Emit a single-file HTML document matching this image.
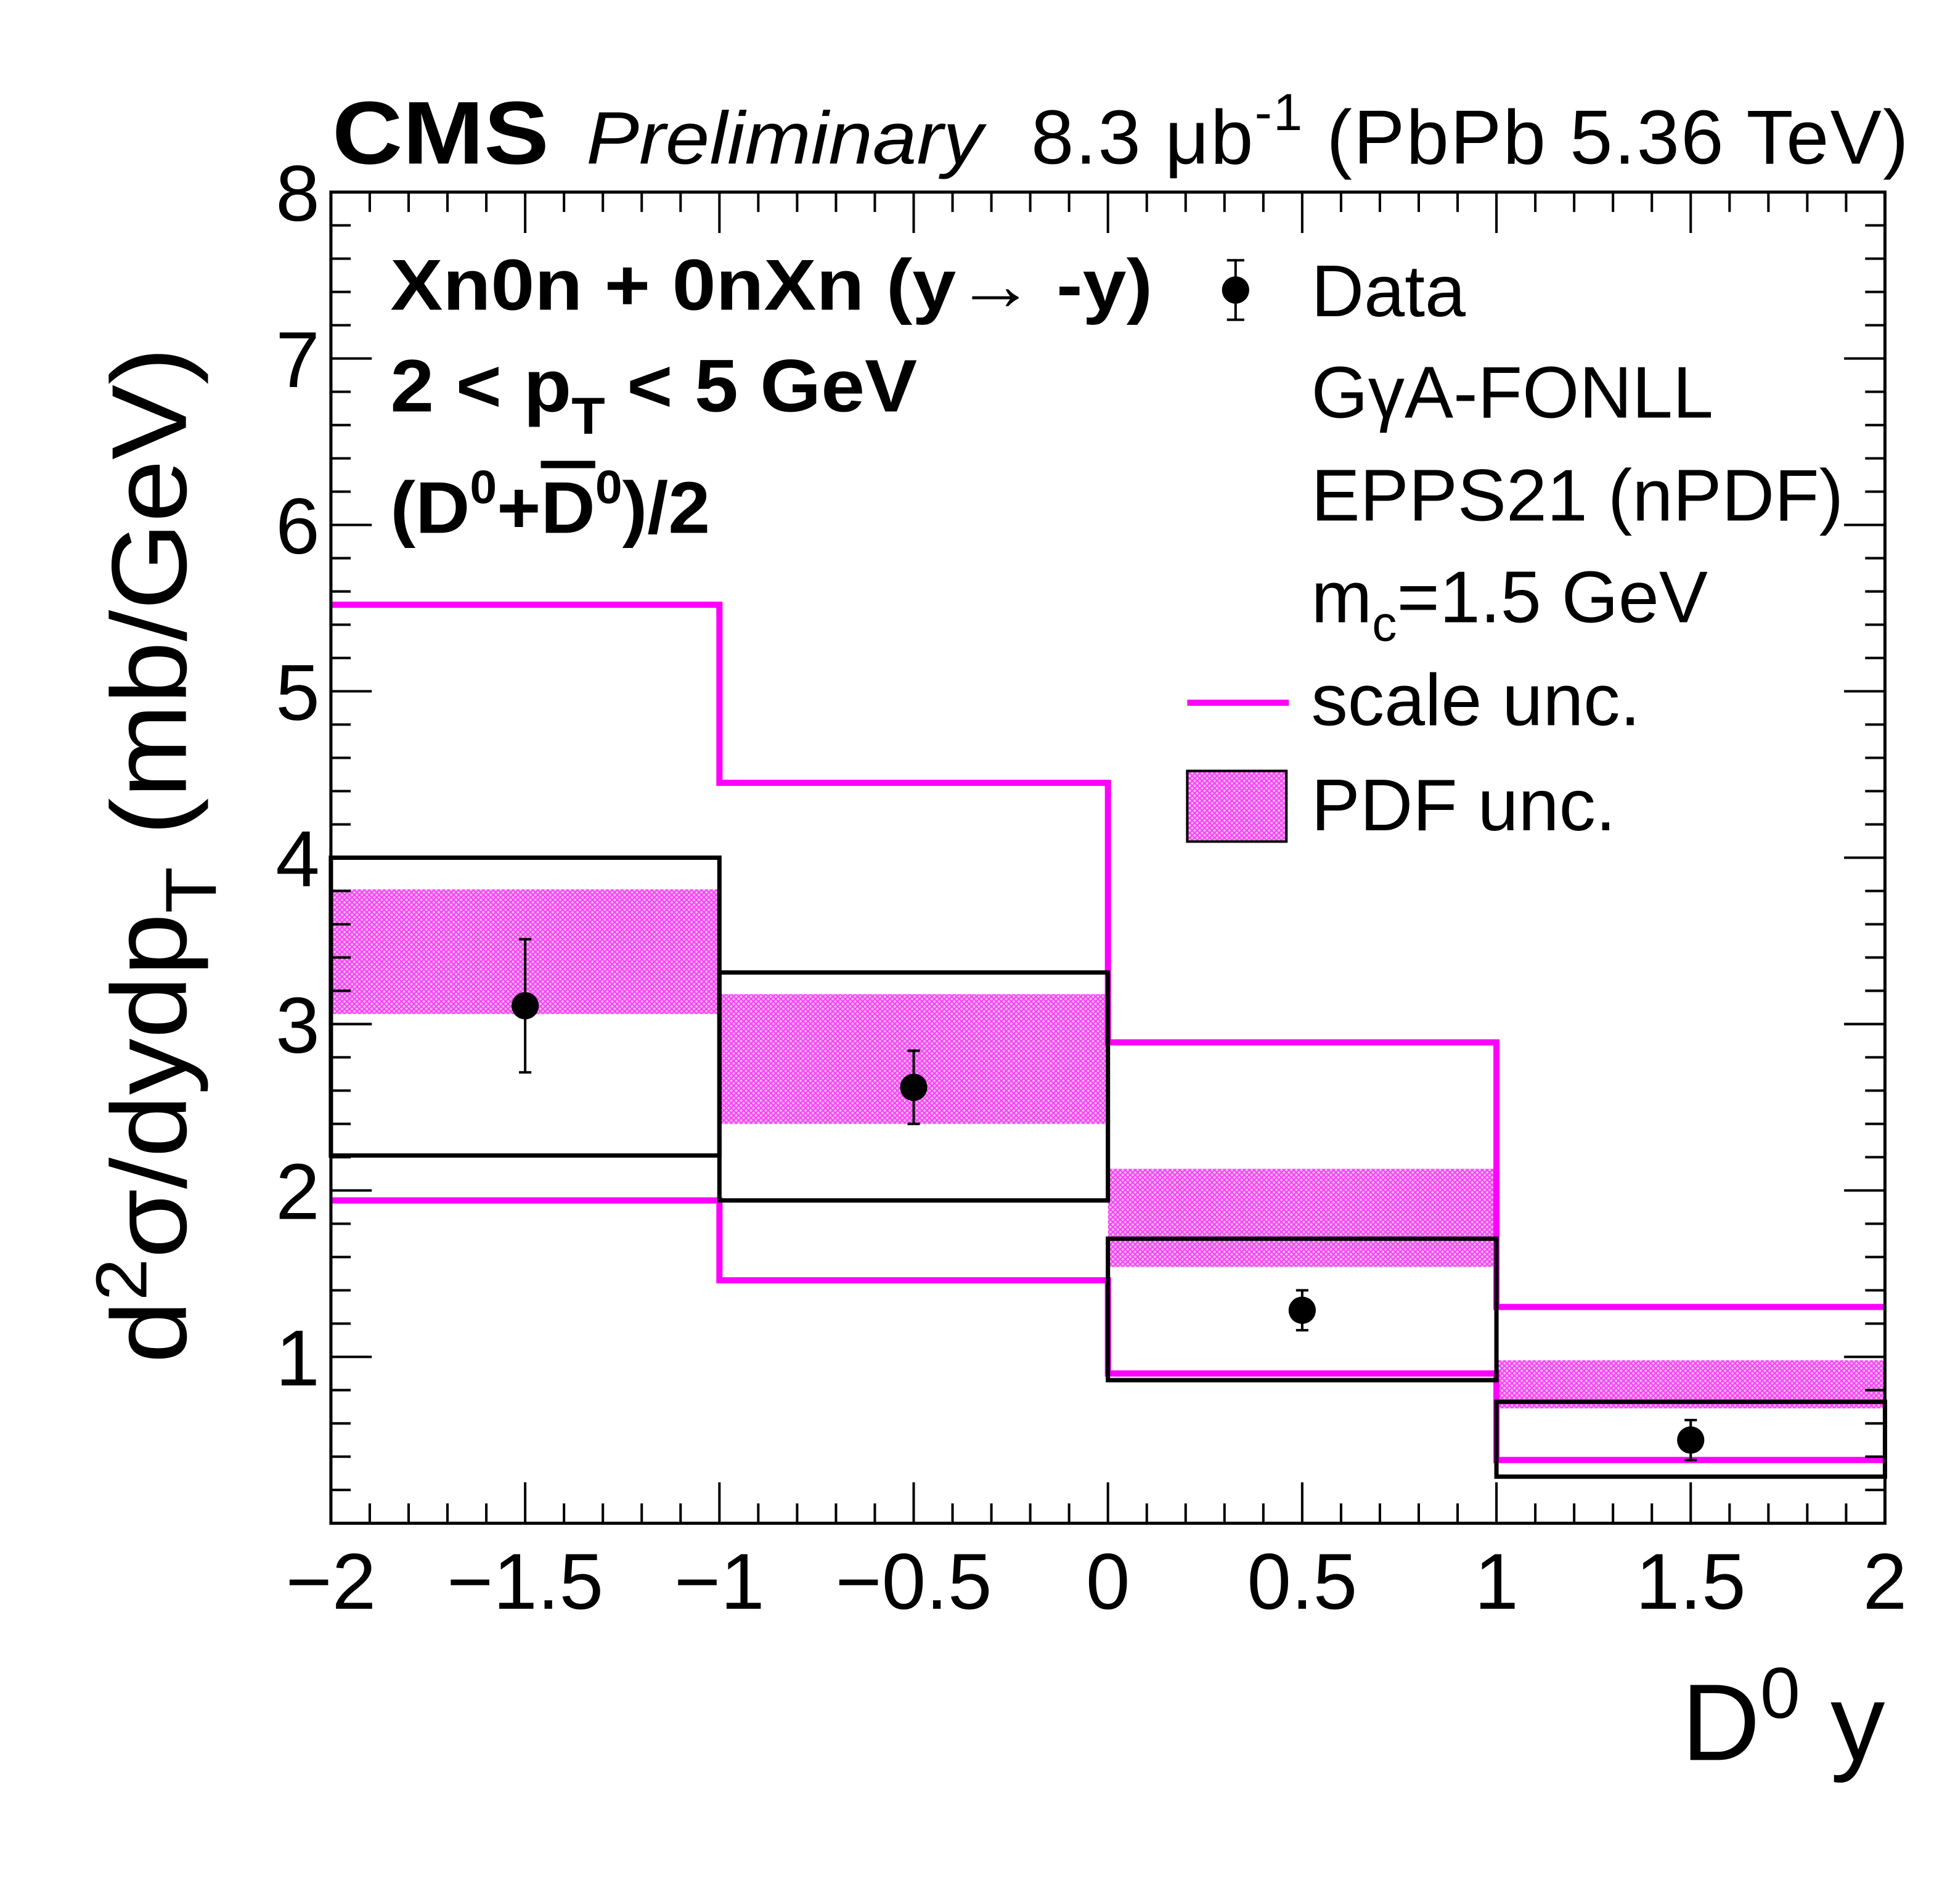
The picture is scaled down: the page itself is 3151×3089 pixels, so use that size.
<!DOCTYPE html>
<html><head><meta charset="utf-8">
<style>
html,body{margin:0;padding:0;background:#fff;}
svg{display:block;}
text{font-family:"Liberation Sans",sans-serif;fill:#000;}
</style></head>
<body>
<svg id="chart" width="3151" height="3089" viewBox="0 0 1567 1536.2" xmlns="http://www.w3.org/2000/svg">
<defs>
<pattern id="hatch" width="4" height="4" patternUnits="userSpaceOnUse">
<rect width="4" height="4" fill="#fbb6fb"/>
<path d="M0,0L4,4M4,0L0,4" stroke="#f340f3" stroke-width="1"/>
</pattern>
</defs>
<g id="plot"></g>
<text x="268" y="132" font-size="72" font-weight="bold" textLength="175" lengthAdjust="spacingAndGlyphs">CMS</text>
<text x="473" y="132" font-size="60" font-style="italic" textLength="320" lengthAdjust="spacingAndGlyphs">Preliminary</text>
<text x="832" y="132" font-size="62" textLength="708" lengthAdjust="spacing">8.3 μb<tspan dy="-27" font-size="42">-1</tspan><tspan dy="27"> (PbPb 5.36 TeV)</tspan></text>
<text x="315" y="250" font-size="58" font-weight="bold" textLength="615" lengthAdjust="spacingAndGlyphs">Xn0n + 0nXn (y→ -y)</text>
<text x="315" y="332" font-size="60" font-weight="bold" textLength="425" lengthAdjust="spacingAndGlyphs">2 &lt; p<tspan dy="18" font-size="42">T</tspan><tspan dy="-18"> &lt; 5 GeV</tspan></text>
<text x="315" y="430" font-size="59" font-weight="bold" textLength="258" lengthAdjust="spacingAndGlyphs">(D<tspan dy="-24" font-size="38">0</tspan><tspan dy="24">+</tspan><tspan text-decoration="overline">D</tspan><tspan dy="-24" font-size="38">0</tspan><tspan dy="24">)/2</tspan></text>
<g>
<line x1="997" y1="210" x2="997" y2="258" stroke="#000" stroke-width="2"/>
<line x1="990" y1="210" x2="1004" y2="210" stroke="#000" stroke-width="2"/>
<line x1="990" y1="258" x2="1004" y2="258" stroke="#000" stroke-width="2"/>
<circle cx="997" cy="234" r="11" fill="#000"/>
<text x="1058" y="255" font-size="59">Data</text>
<text x="1058" y="337" font-size="59">GγA-FONLL</text>
<text x="1058" y="420" font-size="59">EPPS21 (nPDF)</text>
<text x="1058" y="502" font-size="59">m<tspan dy="15" font-size="40">c</tspan><tspan dy="-15">=1.5 GeV</tspan></text>
<line x1="958" y1="567" x2="1040" y2="567" stroke="#ff00ff" stroke-width="5"/>
<text x="1058" y="585" font-size="59">scale unc.</text>
<rect x="958" y="622" width="80" height="57" fill="url(#hatch)" stroke="#000" stroke-width="2"/>
<text x="1058" y="670" font-size="59">PDF unc.</text>
</g>
<text transform="translate(150,1100) rotate(-90)" font-size="86" textLength="820" lengthAdjust="spacingAndGlyphs">d<tspan dy="-32" font-size="58">2</tspan><tspan dy="32">σ/dydp</tspan><tspan dy="24" font-size="58">T</tspan><tspan dy="-24">  (mb/GeV)</tspan></text>
<text x="1521" y="1420" font-size="88" text-anchor="end">D<tspan dy="-34" font-size="58">0</tspan><tspan dy="34"> y</tspan></text>
</svg>
<script>
const binEdges = [-2, -1, 0, 1, 2];
const dataX = [-1.5, -0.5, 0.5, 1.5];
const dataY = [3.11, 2.62, 1.28, 0.50];
const dataErr = [0.40, 0.22, 0.12, 0.12];
const systHi = [4.0, 3.31, 1.71, 0.73];
const systLo = [2.21, 1.94, 0.86, 0.28];
const pdfHi = [3.81, 3.18, 2.13, 0.98];
const pdfLo = [3.06, 2.40, 1.54, 0.69];
const scaleHi = [5.52, 4.45, 2.89, 1.30];
const scaleLo = [1.94, 1.46, 0.90, 0.38];
const xTicks = [-2, -1.5, -1, -0.5, 0, 0.5, 1, 1.5, 2];
const xTickLabels = ["\u22122", "\u22121.5", "\u22121", "\u22120.5", "0", "0.5", "1", "1.5", "2"];
const yTicks = [1, 2, 3, 4, 5, 6, 7, 8];

const L = 267, R = 1521, T = 155, B = 1229;
const xmin = -2, xmax = 2, ymin = 0, ymax = 8;
function sx(v){ return L + (v - xmin) / (xmax - xmin) * (R - L); }
function sy(v){ return B - (v - ymin) / (ymax - ymin) * (B - T); }
const NS = "http://www.w3.org/2000/svg";
const g = document.getElementById('plot');
function mk(tag, attrs){ const e = document.createElementNS(NS, tag); for (const k in attrs) e.setAttribute(k, attrs[k]); g.appendChild(e); return e; }

for (let i = 0; i < pdfHi.length; i++) {
  const r = mk('rect', {x: sx(binEdges[i]), y: sy(pdfHi[i]), width: sx(binEdges[i+1]) - sx(binEdges[i]), height: sy(pdfLo[i]) - sy(pdfHi[i]), fill: 'url(#hatch)'});
  
  
}
function stepPath(vals){
  let d = '';
  for (let i = 0; i < vals.length; i++) {
    d += (i === 0 ? 'M' : 'L') + sx(binEdges[i]) + ',' + sy(vals[i]) + 'L' + sx(binEdges[i+1]) + ',' + sy(vals[i]);
  }
  return d;
}
const sh = mk('path', {d: stepPath(scaleHi), fill: 'none', stroke: '#ff00ff', 'stroke-width': 5});


const sl = mk('path', {d: stepPath(scaleLo), fill: 'none', stroke: '#ff00ff', 'stroke-width': 5});


for (let i = 0; i < systHi.length; i++) {
  const r = mk('rect', {x: sx(binEdges[i]), y: sy(systHi[i]), width: sx(binEdges[i+1]) - sx(binEdges[i]), height: sy(systLo[i]) - sy(systHi[i]), fill: 'none', stroke: '#000', 'stroke-width': 3.5});
  
  
}
for (let i = 0; i < dataX.length; i++) {
  const x = sx(dataX[i]);
  const l = mk('line', {x1: x, x2: x, y1: sy(dataY[i] + dataErr[i]), y2: sy(dataY[i] - dataErr[i]), stroke: '#000', 'stroke-width': 2});
  
  
  for (const v of [dataY[i] + dataErr[i], dataY[i] - dataErr[i]]) {
    const c = mk('line', {x1: x - 5, x2: x + 5, y1: sy(v), y2: sy(v), stroke: '#000', 'stroke-width': 2});
    
    
  }
  const p = mk('circle', {cx: x, cy: sy(dataY[i]), r: 11, fill: '#000'});
  
  
}
for (let k = 0; k <= 40; k++) {
  const vv = -2 + k * 0.1;
  const major = k % 5 === 0;
  const len = major ? 33 : 16;
  const x = sx(vv);
  const t1 = mk('line', {x1: x, x2: x, y1: B, y2: B - len, stroke: '#000', 'stroke-width': 2});
  
  
  const t2 = mk('line', {x1: x, x2: x, y1: T, y2: T + len, stroke: '#000', 'stroke-width': 2});
  
  
}
for (let k = 0; k <= 40; k++) {
  const v = k * 0.2;
  const major = k % 5 === 0;
  const len = major ? 33 : 16;
  const y = sy(v);
  const t1 = mk('line', {x1: L, x2: L + len, y1: y, y2: y, stroke: '#000', 'stroke-width': 2});
  
  
  const t2 = mk('line', {x1: R, x2: R - len, y1: y, y2: y, stroke: '#000', 'stroke-width': 2});
  
  
}
xTicks.forEach((v, i) => {
  const t = mk('text', {x: sx(v), y: 1298, 'font-size': 64, 'text-anchor': 'middle'});
  t.textContent = xTickLabels[i];
  
  
});
yTicks.forEach(v => {
  const t = mk('text', {x: 258, y: sy(v) + 23, 'font-size': 64, 'text-anchor': 'end'});
  t.textContent = String(v);
  
  
});
const frame = mk('rect', {x: L, y: T, width: R - L, height: B - T, fill: 'none', stroke: '#000', 'stroke-width': 2.5});


</script>
</body></html>
